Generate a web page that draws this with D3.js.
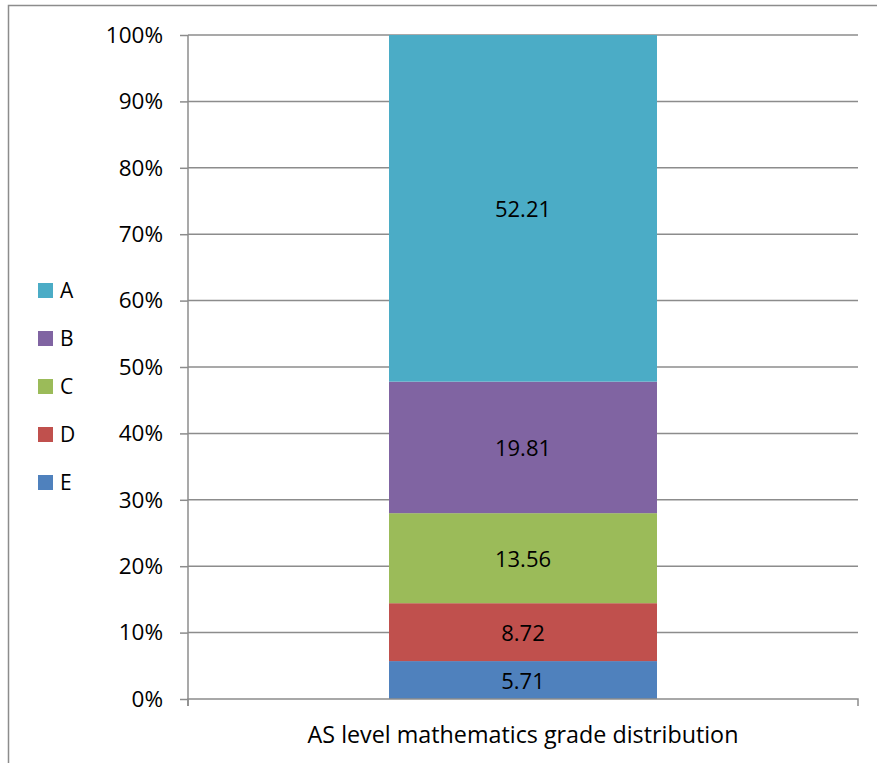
<!DOCTYPE html>
<html>
<head>
<meta charset="utf-8">
<script src="https://cdn.jsdelivr.net/npm/d3@7"></script>
<style>
  html, body { margin: 0; padding: 0; background: #fff; }
  svg text { font-family: "Open Sans", "Noto Sans", sans-serif; fill: #000; }
</style>
</head>
<body>
<svg id="chart" width="877" height="763"></svg>
<script>
// Grade distribution data (percent of candidates)
const category = "AS level mathematics grade distribution";
const grades = ["E", "D", "C", "B", "A"];
const shares = [5.71, 8.72, 13.56, 19.81, 52.21];
const colors = ["#4F81BD", "#C0504D", "#9BBB59", "#8064A2", "#4BACC6"];
const legendOrder = ["A", "B", "C", "D", "E"];
const yTicks = [0, 0.1, 0.2, 0.3, 0.4, 0.5, 0.6, 0.7, 0.8, 0.9, 1.0];

const svg = d3.select("#chart");
const margin = { left: 188, right: 877 - 858, top: 35, bottom: 763 - 699 };
const plotW = 877 - margin.left - margin.right;
const plotH = 763 - margin.top - margin.bottom;

// outer chart border
svg.append("rect")
  .attr("x", 8.5).attr("y", 5.5)
  .attr("width", 900).attr("height", 900)
  .attr("fill", "none").attr("stroke", "#8c8c8c").attr("stroke-width", 1.5);

const g = svg.append("g").attr("transform", `translate(${margin.left},${margin.top})`);

const total = d3.sum(shares);
const y = d3.scaleLinear().domain([0, 1]).range([plotH, 0]);
const x = d3.scaleBand().domain([category]).range([0, plotW]).paddingInner(0).paddingOuter(0.75);

// horizontal gridlines
g.append("g").selectAll("line").data(yTicks.slice(1)).join("line")
  .attr("x1", 0).attr("x2", plotW)
  .attr("y1", d => y(d)).attr("y2", d => y(d))
  .attr("stroke", "#8c8c8c").attr("stroke-width", 1.5);

// stacked segments, normalised to 100%
const stack = [];
let acc = 0;
grades.forEach((gr, i) => {
  stack.push({ grade: gr, value: shares[i], y0: acc / total, y1: (acc + shares[i]) / total, color: colors[i] });
  acc += shares[i];
});

g.append("g").selectAll("rect").data(stack).join("rect")
  .attr("x", x(category))
  .attr("width", x.bandwidth())
  .attr("y", d => y(d.y1))
  .attr("height", d => y(d.y0) - y(d.y1))
  .attr("fill", d => d.color);

g.append("g").selectAll("text").data(stack).join("text")
  .attr("x", x(category) + x.bandwidth() / 2)
  .attr("y", d => (y(d.y0) + y(d.y1)) / 2)
  .attr("text-anchor", "middle")
  .attr("dominant-baseline", "central")
  .attr("font-size", 22)
  .text(d => d.value.toFixed(2));

// y axis
const yAxis = d3.axisLeft(y).tickValues(yTicks).tickFormat(d3.format(".0%")).tickSize(8).tickPadding(17);
const ya = g.append("g").call(yAxis);
ya.select(".domain").attr("stroke", "#8c8c8c").attr("stroke-width", 1.5).attr("d", `M0,${plotH + 7}V0`);
ya.selectAll(".tick line").attr("stroke", "#8c8c8c").attr("stroke-width", 1.5);
ya.selectAll(".tick text").attr("font-size", 22.5).attr("font-family", "Open Sans, sans-serif").attr("fill", "#000");

// x axis
const xAxis = d3.axisBottom(x).tickSize(0).tickPadding(27);
const xa = g.append("g").attr("transform", `translate(0,${plotH})`).call(xAxis);
xa.select(".domain").attr("stroke", "#8c8c8c").attr("stroke-width", 1.5).attr("d", `M0,7V0H${plotW}V7`);
xa.selectAll(".tick text").attr("font-size", 23.3).attr("font-family", "Open Sans, sans-serif").attr("fill", "#000");

// legend
const leg = svg.append("g").attr("transform", "translate(38,290)");
const legItems = leg.selectAll("g").data(legendOrder).join("g")
  .attr("transform", (d, i) => `translate(0,${i * 48})`);
legItems.append("rect")
  .attr("x", 0).attr("y", -7).attr("width", 15).attr("height", 15)
  .attr("fill", d => colors[grades.indexOf(d)]);
legItems.append("text")
  .attr("x", 22).attr("y", 0)
  .attr("dominant-baseline", "central")
  .attr("font-size", 21)
  .text(d => d);
</script>
</body>
</html>
